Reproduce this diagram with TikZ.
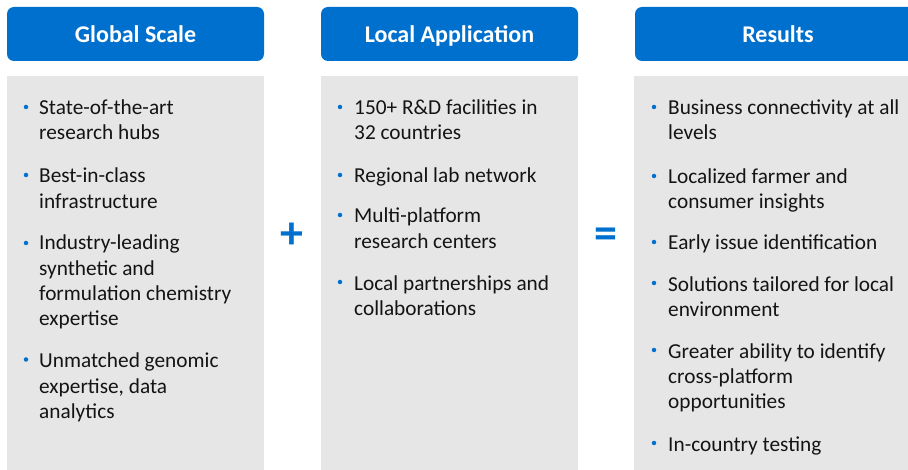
\documentclass[tikz,border=0pt]{standalone}
\usepackage{fontspec}
\setmainfont{Carlito}
\definecolor{hdrblue}{RGB}{0,112,206}
\definecolor{panelgray}{RGB}{230,230,230}
\definecolor{itemtext}{RGB}{20,20,20}
\begin{document}
\begin{tikzpicture}[x=1pt,y=-1pt,
  header/.style={shape=rectangle,rounded corners=7pt,fill=hdrblue,text=white,minimum width=257pt,minimum height=54pt,inner sep=0pt,font=\fontsize{24}{28}\selectfont\bfseries,text height=20pt,text depth=2.6pt},
  panel/.style={shape=rectangle,fill=panelgray,anchor=north west,minimum width=257pt,minimum height=400pt,inner sep=0pt},
  item/.style={anchor=base west,align=left,inner sep=0pt,text=itemtext,font=\fontsize{21.3}{25.3}\selectfont},
  dot/.style={shape=circle,fill=hdrblue,inner sep=0pt,minimum size=4.5pt},
  sign/.style={text=hdrblue,font=\fontsize{46}{46}\selectfont\bfseries,inner sep=0pt}]
\useasboundingbox (0,0) rectangle (908,470);
\clip (0,0) rectangle (908,470);
\node (hg) at (135.5,34) [header] {Global Scale};
\node (hl) at (449.5,34) [header] {Local Application};
\node (hr) at (778,34) [header,minimum width=286pt] {Results};
\node (pg) at (7,76) [panel] {};
\node (pl) at (321,76) [panel] {};
\node (pr) at (634,76) [panel,minimum width=290pt] {};
\node (plus) at (292,236) [sign] {+};
\node (eq) at (606,238) [sign] {=};
\node (g1) at (39,140) [item] {State-of-the-art\\research hubs};
\node (g2) at (39,208.3) [item] {Best-in-class\\infrastructure};
\node (g3) at (39,325.7) [item] {Industry-leading\\synthetic and\\formulation chemistry\\expertise};
\node (g4) at (39,418.3) [item] {Unmatched genomic\\expertise, data\\analytics};
\node (l1) at (354,140) [item] {150+ R\&D facilities in\\32 countries};
\node (l2) at (354,183) [item] {Regional lab network};
\node (l3) at (354,248.3) [item] {Multi-platform\\research centers};
\node (l4) at (354,315.5) [item] {Local partnerships and\\collaborations};
\node (r1) at (668,140) [item] {Business connectivity at all\\levels};
\node (r2) at (668,209) [item] {Localized farmer and\\consumer insights};
\node (r3) at (668,250) [item] {Early issue identification};
\node (r4) at (668,316.5) [item] {Solutions tailored for local\\environment};
\node (r5) at (668,408.6) [item] {Greater ability to identify\\cross-platform\\opportunities};
\node (r6) at (668,451) [item] {In-country testing};
\node (dg1) at (26,107) [dot] {};
\node (dg2) at (26,175) [dot] {};
\node (dg3) at (26,243) [dot] {};
\node (dg4) at (26,359.5) [dot] {};
\node (dl1) at (340,107) [dot] {};
\node (dl2) at (340,175) [dot] {};
\node (dl3) at (340,215) [dot] {};
\node (dl4) at (340,282) [dot] {};
\node (dr1) at (654,107) [dot] {};
\node (dr2) at (654,176) [dot] {};
\node (dr3) at (654,242) [dot] {};
\node (dr4) at (654,283) [dot] {};
\node (dr5) at (654,350) [dot] {};
\node (dr6) at (654,443) [dot] {};
\end{tikzpicture}
\end{document}
